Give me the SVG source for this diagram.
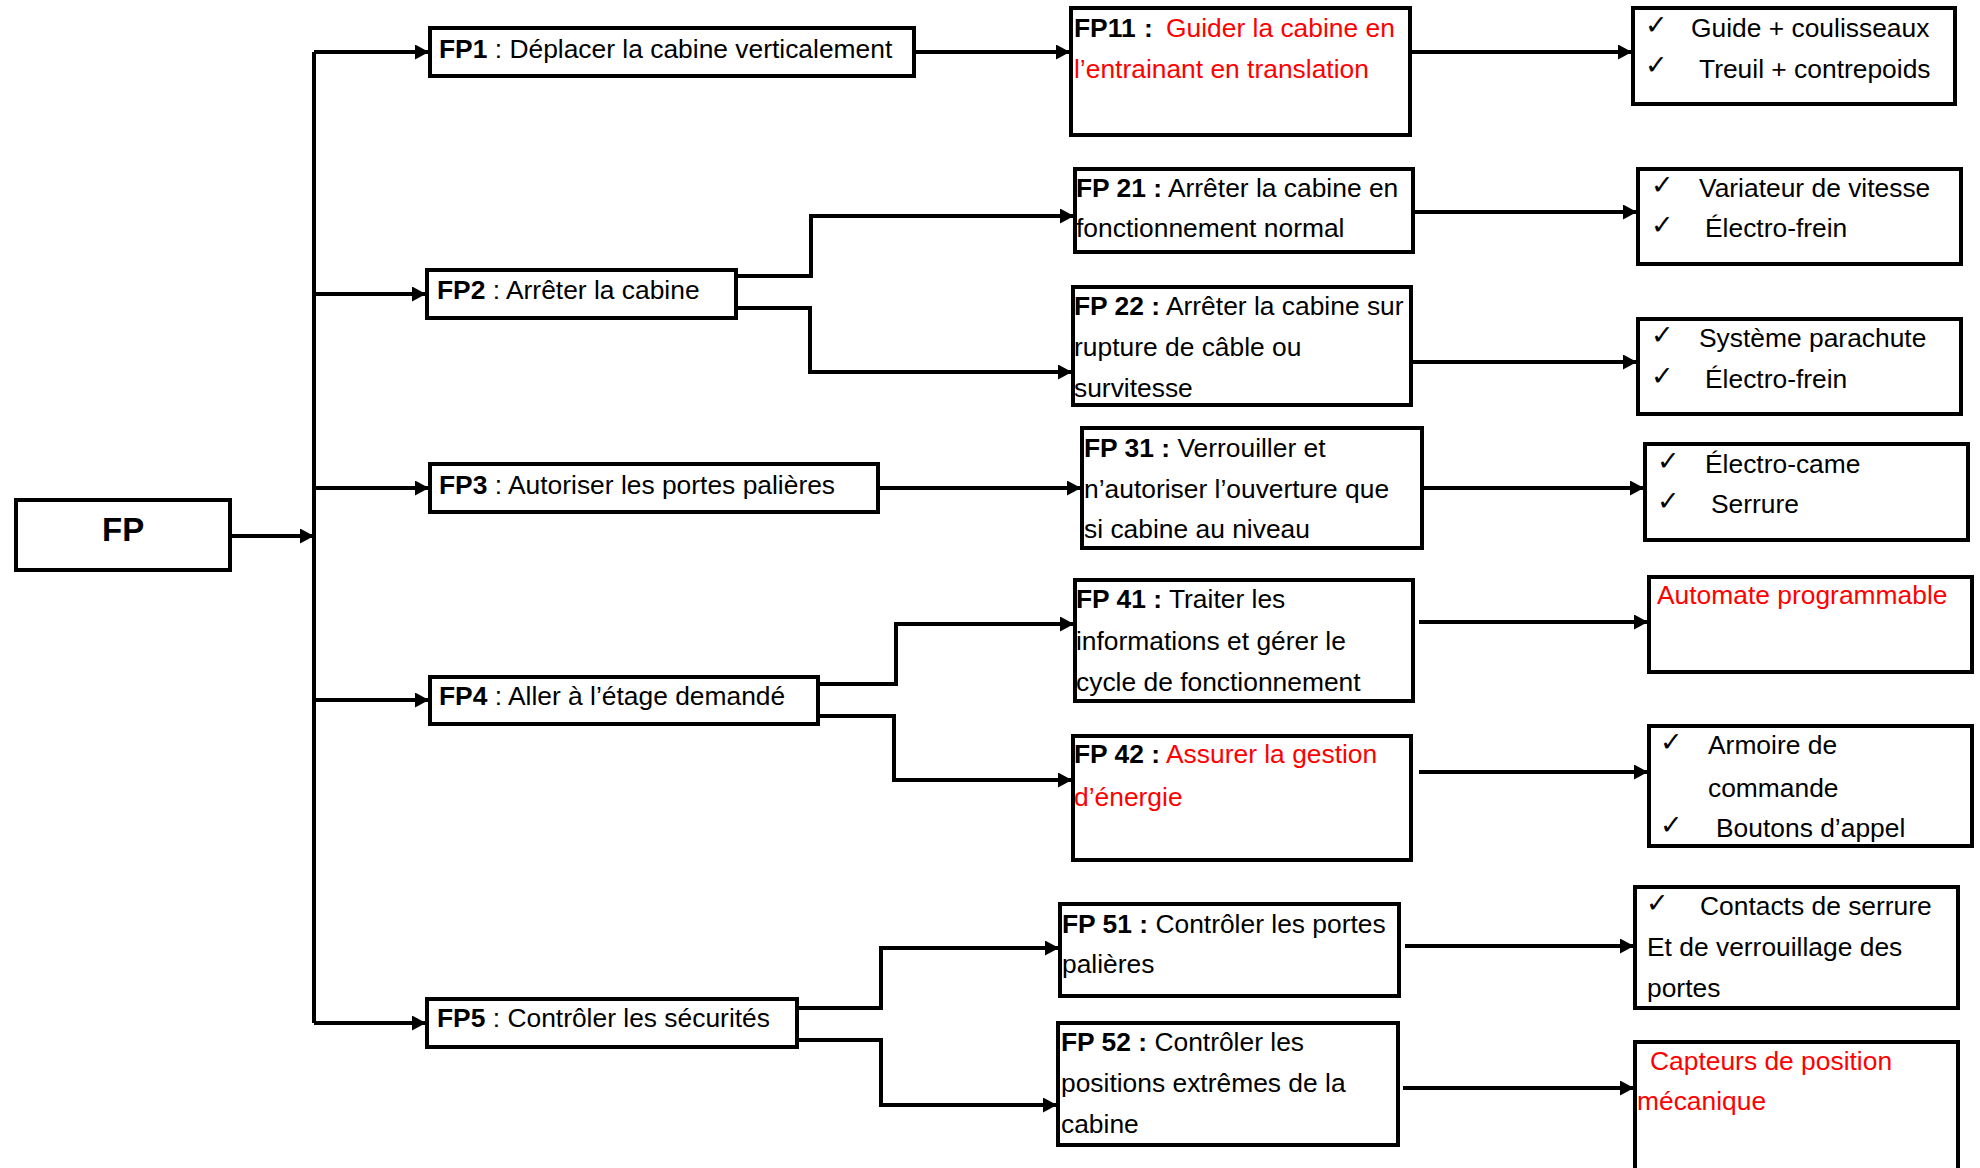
<svg xmlns="http://www.w3.org/2000/svg" width="1980" height="1168" viewBox="0 0 1980 1168">
<style>
.box{fill:#fff;stroke:#000;stroke-width:4}
.t{font-family:'Liberation Sans',Arial,sans-serif;font-size:26.4px;fill:#000}
.b{font-weight:bold}
.r{fill:#f00}
.ck{font-family:'DejaVu Sans',sans-serif;font-size:27px;fill:#000}
.c{fill:none;stroke:#000;stroke-width:4;marker-end:url(#ah)}
.ln{fill:none;stroke:#000;stroke-width:4}
</style>
<defs>
<marker id="ah" markerUnits="userSpaceOnUse" markerWidth="15" markerHeight="15" refX="14" refY="7.5" orient="auto">
<path d="M0,0 L14,7.5 L0,15 z" fill="#000"/>
</marker>
</defs>
<rect width="1980" height="1168" fill="#fff"/>
<g id="connectors">
<path class="ln" d="M314,52 V1023"/>
<path class="c" d="M231,536 H314"/>
<path class="c" d="M314,52 H429"/>
<path class="c" d="M314,294 H426"/>
<path class="c" d="M314,488 H429"/>
<path class="c" d="M314,700 H429"/>
<path class="c" d="M314,1023 H426"/>
<path class="c" d="M915,52 H1070"/>
<path class="c" d="M1411,52 H1632"/>
<path class="c" d="M737,276 H811 V216 H1074"/>
<path class="c" d="M737,308 H810 V372 H1072"/>
<path class="c" d="M1414,212 H1637"/>
<path class="c" d="M1412,362 H1637"/>
<path class="c" d="M879,488 H1081"/>
<path class="c" d="M1423,488 H1644"/>
<path class="c" d="M819,684 H896 V624 H1074"/>
<path class="c" d="M819,716 H894 V780 H1072"/>
<path class="c" d="M1419,622 H1648"/>
<path class="c" d="M1419,772 H1648"/>
<path class="c" d="M798,1008 H881 V948 H1059"/>
<path class="c" d="M798,1040 H881 V1105 H1057"/>
<path class="c" d="M1405,946 H1634"/>
<path class="c" d="M1403,1088 H1634"/>
</g>
<g id="FP">
<rect class="box" x="16" y="500" width="214" height="70"/>
<text class="t b" x="102" y="541" style="font-size:33px">FP</text>
</g>
<g id="FP1">
<rect class="box" x="430" y="28" width="484" height="48"/>
<text class="t" x="439" y="58"><tspan class="b">FP1</tspan> : Déplacer la cabine verticalement</text>
</g>
<g id="FP2">
<rect class="box" x="427" y="270" width="309" height="48"/>
<text class="t" x="437" y="299"><tspan class="b">FP2</tspan> : Arrêter la cabine</text>
</g>
<g id="FP3">
<rect class="box" x="430" y="464" width="448" height="48"/>
<text class="t" x="439" y="494"><tspan class="b">FP3</tspan> : Autoriser les portes palières</text>
</g>
<g id="FP4">
<rect class="box" x="430" y="677" width="388" height="47"/>
<text class="t" x="439" y="705"><tspan class="b">FP4</tspan> : Aller à l’étage demandé</text>
</g>
<g id="FP5">
<rect class="box" x="427" y="999" width="370" height="48"/>
<text class="t" x="437" y="1027"><tspan class="b">FP5</tspan> : Contrôler les sécurités</text>
</g>
<g id="FP11">
<rect class="box" x="1071" y="8" width="339" height="127"/>
<text class="t" x="1074" y="37"><tspan class="b">FP11</tspan><tspan class="b" x="1144">:</tspan><tspan class="r" x="1166">Guider la cabine en</tspan></text>
<text class="t r" x="1074" y="78">l’entrainant en translation</text>
</g>
<g id="FP21">
<rect class="box" x="1075" y="169" width="338" height="83"/>
<text class="t" x="1076" y="197"><tspan class="b">FP 21 :</tspan> Arrêter la cabine en</text>
<text class="t" x="1076" y="237">fonctionnement normal</text>
</g>
<g id="FP22">
<rect class="box" x="1073" y="287" width="338" height="118"/>
<text class="t" x="1074" y="315"><tspan class="b">FP 22 :</tspan> Arrêter la cabine sur</text>
<text class="t" x="1074" y="356">rupture de câble ou</text>
<text class="t" x="1074" y="397">survitesse</text>
</g>
<g id="FP31">
<rect class="box" x="1082" y="428" width="340" height="120"/>
<text class="t" x="1084" y="457"><tspan class="b">FP 31 :</tspan> Verrouiller et</text>
<text class="t" x="1084" y="498">n’autoriser l’ouverture que</text>
<text class="t" x="1084" y="538">si cabine au niveau</text>
</g>
<g id="FP41">
<rect class="box" x="1075" y="580" width="338" height="121"/>
<text class="t" x="1076" y="608"><tspan class="b">FP 41 :</tspan> Traiter les</text>
<text class="t" x="1076" y="650">informations et gérer le</text>
<text class="t" x="1076" y="691">cycle de fonctionnement</text>
</g>
<g id="FP42">
<rect class="box" x="1073" y="736" width="338" height="124"/>
<text class="t" x="1074" y="763"><tspan class="b">FP 42 :</tspan><tspan class="r" x="1166">Assurer la gestion</tspan></text>
<text class="t r" x="1074" y="806">d’énergie</text>
</g>
<g id="FP51">
<rect class="box" x="1060" y="904" width="339" height="92"/>
<text class="t" x="1062" y="933"><tspan class="b">FP 51 :</tspan> Contrôler les portes</text>
<text class="t" x="1062" y="973">palières</text>
</g>
<g id="FP52">
<rect class="box" x="1058" y="1023" width="340" height="122"/>
<text class="t" x="1061" y="1051"><tspan class="b">FP 52 :</tspan> Contrôler les</text>
<text class="t" x="1061" y="1092">positions extrêmes de la</text>
<text class="t" x="1061" y="1133">cabine</text>
</g>
<g id="R1">
<rect class="box" x="1633" y="8" width="322" height="96"/>
<text class="ck" x="1645" y="34">✓</text>
<text class="t" x="1691" y="37">Guide + coulisseaux</text>
<text class="ck" x="1645" y="74">✓</text>
<text class="t" x="1699" y="78">Treuil + contrepoids</text>
</g>
<g id="R2">
<rect class="box" x="1638" y="169" width="323" height="95"/>
<text class="ck" x="1651" y="194">✓</text>
<text class="t" x="1699" y="197">Variateur de vitesse</text>
<text class="ck" x="1651" y="234">✓</text>
<text class="t" x="1705" y="237">Électro-frein</text>
</g>
<g id="R3">
<rect class="box" x="1638" y="319" width="323" height="95"/>
<text class="ck" x="1651" y="344">✓</text>
<text class="t" x="1699" y="347">Système parachute</text>
<text class="ck" x="1651" y="385">✓</text>
<text class="t" x="1705" y="388">Électro-frein</text>
</g>
<g id="R4">
<rect class="box" x="1645" y="444" width="323" height="96"/>
<text class="ck" x="1657" y="470">✓</text>
<text class="t" x="1705" y="473">Électro-came</text>
<text class="ck" x="1657" y="510">✓</text>
<text class="t" x="1711" y="513">Serrure</text>
</g>
<g id="R5">
<rect class="box" x="1649" y="577" width="323" height="95"/>
<text class="t r" x="1657" y="604">Automate programmable</text>
</g>
<g id="R6">
<rect class="box" x="1649" y="726" width="323" height="120"/>
<text class="ck" x="1660" y="751">✓</text>
<text class="t" x="1708" y="754">Armoire de</text>
<text class="t" x="1708" y="797">commande</text>
<text class="ck" x="1660" y="834">✓</text>
<text class="t" x="1716" y="837">Boutons d’appel</text>
</g>
<g id="R7">
<rect class="box" x="1635" y="887" width="323" height="121"/>
<text class="ck" x="1646" y="912">✓</text>
<text class="t" x="1700" y="915">Contacts de serrure</text>
<text class="t" x="1647" y="956">Et de verrouillage des</text>
<text class="t" x="1647" y="997">portes</text>
</g>
<g id="R8">
<rect class="box" x="1635" y="1042" width="323" height="150"/>
<text class="t r" x="1650" y="1070">Capteurs de position</text>
<text class="t r" x="1637" y="1110">mécanique</text>
</g>
</svg>
